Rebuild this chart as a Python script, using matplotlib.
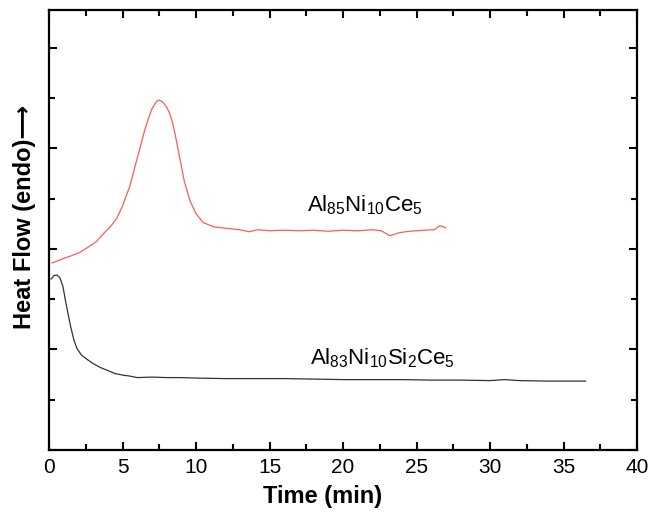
import matplotlib
matplotlib.use("Agg")
import matplotlib.pyplot as plt
from matplotlib.ticker import MultipleLocator

# Curva Al85Ni10Ce5 (roja)
red_t = [0.2, 0.5, 0.9, 1.5, 2.1, 2.7, 3.2, 3.7, 4.2, 4.6, 5.0, 5.5, 6.0, 6.5,
         6.8, 7.0, 7.3, 7.5, 7.7, 8.0, 8.2, 8.4, 8.6, 8.8, 9.0, 9.2, 9.6, 10.0,
         10.5, 11.2, 12.0, 13.0, 13.6, 14.2, 15.0, 16.0, 17.0, 18.0, 19.0, 20.0,
         21.0, 22.0, 22.6, 23.2, 23.8, 24.5, 25.5, 26.2, 26.6, 27.0]
red_v = [3.72, 3.75, 3.80, 3.86, 3.93, 4.04, 4.14, 4.30, 4.45, 4.60, 4.85, 5.25,
         5.80, 6.35, 6.62, 6.78, 6.93, 6.96, 6.93, 6.82, 6.70, 6.52, 6.25, 5.95,
         5.65, 5.35, 4.95, 4.70, 4.52, 4.44, 4.41, 4.38, 4.34, 4.38, 4.36, 4.37,
         4.36, 4.37, 4.35, 4.37, 4.36, 4.38, 4.36, 4.26, 4.32, 4.35, 4.37, 4.38,
         4.46, 4.42]

# Curva Al83Ni10Si2Ce5 (negra)
blk_t = [0.15, 0.35, 0.55, 0.75, 0.95, 1.1, 1.3, 1.5, 1.7, 1.9, 2.2, 2.6, 3.0,
         3.5, 4.0, 4.5, 5.0, 5.5, 6.0, 7, 8, 9, 10, 12, 14, 16, 18, 20, 22, 24,
         26, 28, 30, 31, 32, 34, 36.5]
blk_v = [3.40, 3.47, 3.48, 3.42, 3.25, 3.00, 2.70, 2.42, 2.18, 2.02, 1.89, 1.80,
         1.72, 1.64, 1.58, 1.52, 1.49, 1.47, 1.44, 1.45, 1.44, 1.44, 1.43, 1.42,
         1.42, 1.42, 1.41, 1.40, 1.40, 1.40, 1.39, 1.39, 1.38, 1.40, 1.38, 1.37,
         1.37]

plt.rcParams.update({
    "font.family": ["Liberation Sans", "DejaVu Sans"],
    "mathtext.fontset": "custom",
    "mathtext.rm": "Liberation Sans",
    "mathtext.it": "Liberation Sans",
})

fig = plt.figure(figsize=(6.71, 5.14), dpi=100)
ax = fig.add_axes([49 / 671, 64 / 514, 588 / 671, 440 / 514])

ax.plot(red_t, red_v, color="#ff5a5a", lw=0.9)
ax.plot(blk_t, blk_v, color="#333333", lw=0.9)

ax.set_xlim(0, 40)
ax.set_ylim(0, 8.75)
ax.xaxis.set_major_locator(MultipleLocator(5))
ax.xaxis.set_minor_locator(MultipleLocator(2.5))
ax.yaxis.set_major_locator(MultipleLocator(2))
ax.yaxis.set_minor_locator(MultipleLocator(1))
ax.tick_params(which="both", direction="in", top=True, right=True, width=1.5)
ax.tick_params(which="major", length=6)
ax.tick_params(which="minor", length=4)
ax.tick_params(axis="x", labelsize=15, pad=6)
ax.set_yticklabels([])
for s in ax.spines.values():
    s.set_linewidth(1.6)

ax.text(21.5, 4.87, r"$\mathregular{Al_{85}Ni_{10}Ce_5}$", fontsize=16,
        ha="center", va="center")
ax.text(22.7, 1.83, r"$\mathregular{Al_{83}Ni_{10}Si_2Ce_5}$", fontsize=16,
        ha="center", va="center")

fig.text(323 / 671, 1 - 497 / 514, "Time (min)", fontsize=17,
         fontweight="bold", ha="center", va="center")
fig.text(25 / 671, 1 - 217 / 514, "Heat Flow (endo)\u27f6", fontsize=17,
         fontweight="bold", ha="center", va="center", rotation=90)

fig.savefig("out.png", dpi=100)
